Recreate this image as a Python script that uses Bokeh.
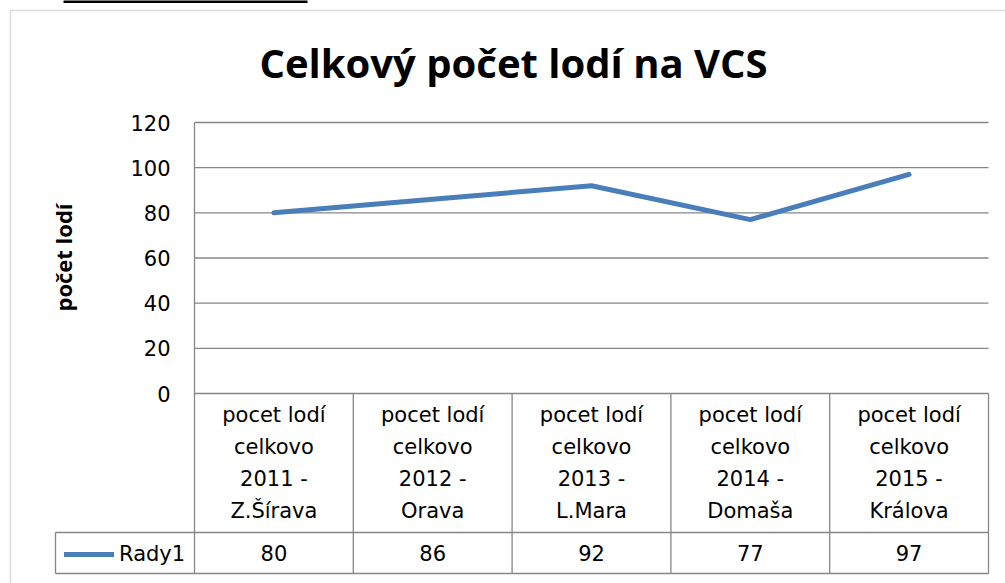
import math
from bokeh.plotting import figure
from bokeh.models import (Range1d, Label, BoxAnnotation, Legend,
                          LegendItem, ColumnDataSource)
from bokeh.core.properties import value
from bokeh.embed import file_html
from bokeh.resources import INLINE

# ---- data ----
categories = [
    "pocet lodí\ncelkovo\n2011 -\nZ.Šírava",
    "pocet lodí\ncelkovo\n2012 -\nOrava",
    "pocet lodí\ncelkovo\n2013 -\nL.Mara",
    "pocet lodí\ncelkovo\n2014 -\nDomaša",
    "pocet lodí\ncelkovo\n2015 -\nKrálova",
]
values = [80, 86, 92, 77, 97]
series_name = "Rady1"
y_ticks = [0, 20, 40, 60, 80, 100, 120]
title_text = "Celkový počet lodí na VCS"
y_label = "počet lodí"

# ---- layout (page pixels) ----
W, H = 1005, 583
PLOT_L, PLOT_R = 194, 988      # plot area / table horizontal extent
Y_TOP, Y_ZERO = 122, 393       # pixel of 120 and 0
n = len(categories)
ppx = (PLOT_R - PLOT_L) / n
ppy = (Y_ZERO - Y_TOP) / max(y_ticks)

def xd(px):
    return -0.5 + (px - PLOT_L) / ppx

def yd(py):
    return (Y_ZERO - py) / ppy

ROW_TOP, TBL_BOT, LEG_L = 532, 573, 55
GRID = "#868686"
BLUE = "#4A7EBB"
FONT = "DejaVu Sans"
FS = "21px"

p = figure(width=W, height=H, output_backend="svg", toolbar_location=None,
           x_axis_location=None, y_axis_location=None,
           x_range=Range1d(xd(0), xd(W)), y_range=Range1d(yd(H), yd(0)),
           min_border=0)
p.outline_line_color = None
p.background_fill_color = "white"
p.border_fill_color = "white"
p.grid.visible = False

x_lo, x_hi = -0.5, n - 0.5
y_top = max(y_ticks)

# value axis: gridlines, axis line, tick labels, title
p.segment(x0=[x_lo] * len(y_ticks), y0=y_ticks, x1=[x_hi] * len(y_ticks),
          y1=y_ticks, line_color=GRID, line_width=1.3)
p.text(x=[xd(PLOT_L - 24)] * len(y_ticks), y=y_ticks,
       text=[str(t) for t in y_ticks], text_align="right",
       text_baseline="middle", text_font=value(FONT), text_font_size=FS,
       text_color="black")
p.text(x=[xd(62)], y=[yd(257)], text=[y_label], angle=math.pi / 2,
       text_align="center", text_baseline="middle",
       text_font=value("Open Sans"), text_font_style="bold",
       text_font_size="22px", text_color="black")

# table grid lines (data table under the plot)
vx = [k - 0.5 for k in range(n + 1)]
vtop = [y_top] + [0] * n
p.segment(x0=vx, y0=[yd(TBL_BOT)] * (n + 1), x1=vx, y1=vtop,
          line_color=GRID, line_width=1.3)
hy = [yd(ROW_TOP), yd(TBL_BOT)]
p.segment(x0=[xd(LEG_L)] * 2, y0=hy, x1=[x_hi] * 2, y1=hy,
          line_color=GRID, line_width=1.3)
p.segment(x0=[xd(LEG_L)], y0=[yd(ROW_TOP)], x1=[xd(LEG_L)],
          y1=[yd(TBL_BOT)], line_color=GRID, line_width=1.3)

# data line
idx = list(range(n))
src = ColumnDataSource(dict(x=idx, y=values))
line_r = p.line("x", "y", source=src, line_color=BLUE, line_width=5,
                line_cap="round", line_join="round")

# category labels and values in the table
p.text(x=idx, y=[yd(462.5)] * n, text=categories, text_align="center",
       text_baseline="middle", text_font=value(FONT),
       text_font_size=FS, text_line_height=1.34, text_color="black")
p.text(x=idx, y=[yd(552)] * n, text=[str(v) for v in values],
       text_align="center", text_baseline="middle", text_font=value(FONT),
       text_font_size=FS, text_color="black")

# legend key inside the table's first column
leg = Legend(items=[LegendItem(label=series_name, renderers=[line_r])],
             location=(64, H - 566), margin=0, padding=0,
             glyph_width=50, glyph_height=20, label_standoff=5,
             label_height=20, label_text_font=FONT,
             label_text_font_size=FS, label_text_color="black",
             border_line_color=None, background_fill_alpha=0)
p.add_layout(leg)

# title
p.add_layout(Label(x=xd(513), y=yd(62), text=title_text, text_align="center",
                   text_baseline="middle", text_font="Open Sans",
                   text_font_style="bold", text_font_size="40px",
                   text_color="black"))

# outer chart border
p.add_layout(BoxAnnotation(left=xd(10), right=xd(1200), top=yd(10),
                           bottom=yd(800), fill_color=None,
                           line_color="#8C8C8C", line_width=1.5))
# dark rule at the very top of the page
p.add_layout(BoxAnnotation(left=xd(63), right=xd(307), top=yd(-2),
                           bottom=yd(2.5), fill_color="black", fill_alpha=1,
                           line_color=None))

open("out.html", "w").write(file_html(p, INLINE))
